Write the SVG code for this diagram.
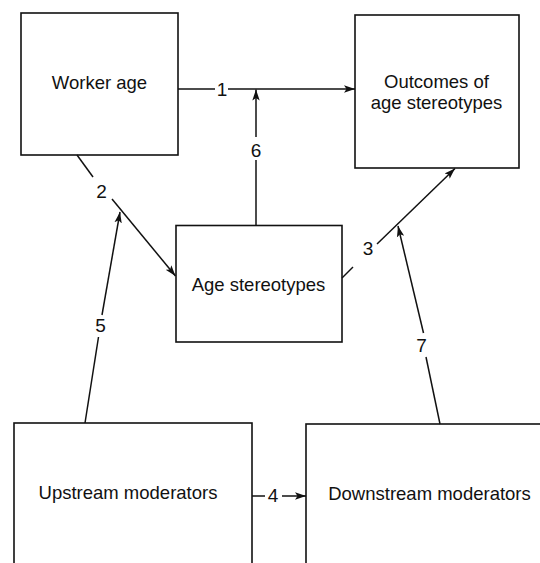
<svg xmlns="http://www.w3.org/2000/svg" width="540" height="563" viewBox="0 0 540 563">
  <defs>
    <marker id="arr" markerUnits="userSpaceOnUse" markerWidth="12" markerHeight="9" refX="11" refY="4.5" orient="auto">
      <path d="M0,0.8 L11,4.5 L0,8.2 L2.5,4.5 Z" fill="#111"/>
    </marker>
    <style>
      .box { fill: #fff; stroke: #111; stroke-width: 1.6; }
      .lbl { font-family: "Liberation Sans", Arial, sans-serif; font-size: 18.5px; fill: #111; text-anchor: middle; }
      .num { font-size: 19px; }
      .ln { stroke: #111; stroke-width: 1.5; fill: none; }
    </style>
  </defs>
  <rect width="540" height="563" fill="#fff"/>

  <g id="node-worker-age">
    <rect class="box" x="21" y="13" width="157" height="142"/>
    <text class="lbl" x="99.5" y="89">Worker age</text>
  </g>
  <g id="node-outcomes">
    <rect class="box" x="355" y="15" width="164" height="153"/>
    <text class="lbl" x="436.5" y="88">Outcomes of</text>
    <text class="lbl" x="436.5" y="108.5">age stereotypes</text>
  </g>
  <g id="node-age-stereotypes">
    <rect class="box" x="176" y="225.5" width="166" height="116.5"/>
    <text class="lbl" x="258.5" y="290.5">Age stereotypes</text>
  </g>
  <g id="node-upstream">
    <rect class="box" x="14" y="423" width="238" height="200"/>
    <text class="lbl" x="128" y="498.5">Upstream moderators</text>
  </g>
  <g id="node-downstream">
    <rect class="box" x="306" y="424" width="300" height="200"/>
    <text class="lbl" x="429.5" y="500">Downstream moderators</text>
  </g>

  <g id="connectors">
    <!-- 1: Worker age -> Outcomes -->
    <line class="ln" x1="178" y1="89" x2="215" y2="89"/>
    <line class="ln" x1="228" y1="89" x2="355" y2="89" marker-end="url(#arr)"/>
    <text class="lbl num" x="222" y="95.5">1</text>
    <!-- 6: Age stereotypes -> link 1 -->
    <line class="ln" x1="256" y1="225.5" x2="256" y2="160"/>
    <line class="ln" x1="256" y1="137" x2="256" y2="89.5" marker-end="url(#arr)"/>
    <text class="lbl num" x="256" y="157">6</text>
    <!-- 2: Worker age -> Age stereotypes -->
    <line class="ln" x1="77" y1="155" x2="93" y2="177"/>
    <line class="ln" x1="112" y1="199" x2="175.5" y2="276" marker-end="url(#arr)"/>
    <text class="lbl num" x="101.5" y="197.5">2</text>
    <!-- 5: Upstream -> link 2 -->
    <line class="ln" x1="85" y1="423" x2="98.5" y2="337"/>
    <line class="ln" x1="102" y1="315" x2="120" y2="212" marker-end="url(#arr)"/>
    <text class="lbl num" x="100.5" y="331.5">5</text>
    <!-- 3: Age stereotypes -> Outcomes -->
    <line class="ln" x1="342" y1="278" x2="353" y2="267"/>
    <line class="ln" x1="377" y1="244" x2="455" y2="168.5" marker-end="url(#arr)"/>
    <text class="lbl num" x="368" y="255">3</text>
    <!-- 7: Downstream -> link 3 -->
    <line class="ln" x1="440" y1="424" x2="426" y2="357"/>
    <line class="ln" x1="423.5" y1="333" x2="398" y2="226" marker-end="url(#arr)"/>
    <text class="lbl num" x="421.5" y="351.5">7</text>
    <!-- 4: Upstream -> Downstream -->
    <line class="ln" x1="252" y1="496" x2="265" y2="496"/>
    <line class="ln" x1="282" y1="496" x2="306" y2="496" marker-end="url(#arr)"/>
    <text class="lbl num" x="273" y="502">4</text>
  </g>
</svg>
